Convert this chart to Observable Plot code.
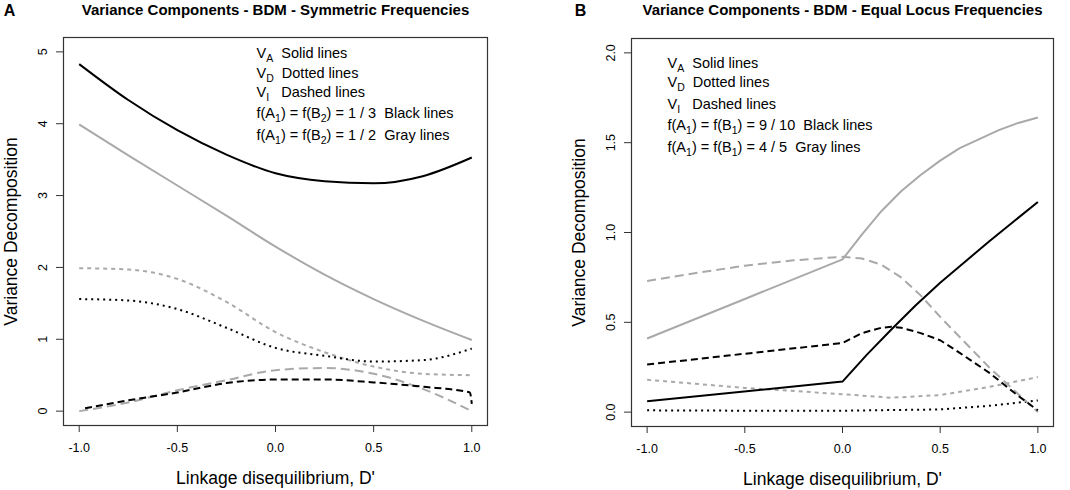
<!DOCTYPE html>
<html><head><meta charset="utf-8">
<script src="https://cdn.jsdelivr.net/npm/d3@7"></script>
<script src="https://cdn.jsdelivr.net/npm/@observablehq/plot@0.6"></script>
<style>
body{margin:0;background:#fff;}
#wrap{display:flex;width:1070px;height:490px;overflow:hidden;}
</style></head><body><div id="wrap"></div>
<script>
// ---------- data ----------
const xTicks = [-1, -0.5, 0, 0.5, 1];
const yTicksA = [0, 1, 2, 3, 4, 5];
const yTicksB = [0, 0.5, 1, 1.5, 2];

const titleA = "Variance Components - BDM - Symmetric Frequencies";
const titleB = "Variance Components - BDM - Equal Locus Frequencies";
const xLabel = "Linkage disequilibrium, D'";
const yLabel = "Variance Decomposition";

const legendA = [
  "V_{A}\u00a0 Solid lines",
  "V_{D}\u00a0 Dotted lines",
  "V_{I}\u00a0\u00a0 Dashed lines",
  "f(A_{1}) = f(B_{2}) = 1 / 3\u00a0 Black lines",
  "f(A_{1}) = f(B_{2}) = 1 / 2\u00a0 Gray lines"
];
const legendB = [
  "V_{A}\u00a0 Solid lines",
  "V_{D}\u00a0 Dotted lines",
  "V_{I}\u00a0\u00a0 Dashed lines",
  "f(A_{1}) = f(B_{1}) = 9 / 10\u00a0 Black lines",
  "f(A_{1}) = f(B_{1}) = 4 / 5\u00a0 Gray lines"
];

// Panel A (D' grid)
const xA = [-1, -0.75, -0.5, -0.25, 0, 0.25, 0.5, 0.75, 1];
const aVaBlack = [4.83, 4.33, 3.91, 3.57, 3.31, 3.20, 3.17, 3.27, 3.53];
const aVaGray  = [3.99, 3.56, 3.14, 2.72, 2.29, 1.90, 1.56, 1.26, 0.99];
const aVdBlack = [1.56, 1.54, 1.42, 1.16, 0.88, 0.77, 0.69, 0.71, 0.87];
const aVdGray  = [1.99, 1.97, 1.84, 1.52, 1.10, 0.82, 0.62, 0.52, 0.50];
const aViGray  = [0.00, 0.12, 0.29, 0.43, 0.57, 0.60, 0.52, 0.31, 0.00];
const xAViBlack = [-0.97, -0.75, -0.5, -0.25, 0, 0.25, 0.5, 0.75, 0.99, 1];
const aViBlack  = [0.04, 0.15, 0.26, 0.39, 0.44, 0.44, 0.40, 0.34, 0.26, 0.10];

// Panel B
const xBVaBlack = [-1, 0, 0.125, 0.25, 0.375, 0.5, 0.75, 1];
const bVaBlack  = [0.06, 0.17, 0.32, 0.46, 0.595, 0.72, 0.95, 1.17];
const xBVaGray  = [-1, -0.5, 0, 0.1, 0.2, 0.3, 0.4, 0.5, 0.6, 0.7, 0.8, 0.9, 1];
const bVaGray   = [0.41, 0.63, 0.85, 0.99, 1.12, 1.23, 1.32, 1.40, 1.47, 1.52, 1.57, 1.61, 1.64];
const xBViGray  = [-1, -0.75, -0.5, -0.25, 0, 0.1, 0.2, 0.3, 0.4, 0.5, 0.75, 1];
const bViGray   = [0.73, 0.775, 0.815, 0.845, 0.865, 0.855, 0.82, 0.75, 0.65, 0.53, 0.25, 0.0];
const xBViBlack = [-1, -0.5, 0, 0.1, 0.2, 0.25, 0.3, 0.4, 0.5, 0.6, 0.75, 0.9, 1];
const bViBlack  = [0.265, 0.325, 0.385, 0.44, 0.47, 0.475, 0.47, 0.44, 0.40, 0.33, 0.22, 0.09, 0.01];
const xBVdGray  = [-1, -0.5, 0, 0.25, 0.5, 0.75, 1];
const bVdGray   = [0.18, 0.135, 0.10, 0.08, 0.095, 0.14, 0.195];
const xBVdBlack = [-1, -0.5, 0, 0.5, 0.75, 1];
const bVdBlack  = [0.01, 0.008, 0.008, 0.015, 0.035, 0.065];

// ---------- styles ----------
const FONT = "'Liberation Sans', Arial, sans-serif";
const colors = {black: "#000000", gray: "#A9A9A9"};
const dashes = {
  VA: {black: null, gray: null},
  VD: {black: "2,4", gray: "4,4"},
  VI: {black: "7,4", gray: "9,5"}
};

const seriesA = [
  {comp: "VD", grp: "gray",  xs: xA, ys: aVdGray},
  {comp: "VD", grp: "black", xs: xA, ys: aVdBlack},
  {comp: "VI", grp: "gray",  xs: xA, ys: aViGray},
  {comp: "VI", grp: "black", xs: xAViBlack, ys: aViBlack},
  {comp: "VA", grp: "gray",  xs: xA, ys: aVaGray},
  {comp: "VA", grp: "black", xs: xA, ys: aVaBlack}
];
const seriesB = [
  {comp: "VD", grp: "gray",  xs: xBVdGray, ys: bVdGray},
  {comp: "VD", grp: "black", xs: xBVdBlack, ys: bVdBlack},
  {comp: "VI", grp: "gray",  xs: xBViGray, ys: bViGray},
  {comp: "VI", grp: "black", xs: xBViBlack, ys: bViBlack},
  {comp: "VA", grp: "gray",  xs: xBVaGray, ys: bVaGray},
  {comp: "VA", grp: "black", xs: xBVaBlack, ys: bVaBlack}
];

function rows(s) { return s.xs.map((x, i) => ({x, y: s.ys[i]})); }
const fmt1 = d => d.toFixed(1);
const fmt0 = d => d.toFixed(0);

function makePanel(cfg) {
  const lineMarks = cfg.series.map(s => Plot.line(rows(s), {
    x: "x", y: "y",
    stroke: colors[s.grp], strokeWidth: 2,
    strokeDasharray: dashes[s.comp][s.grp] || undefined,
    strokeLinecap: "butt", strokeLinejoin: "round",
    curve: cfg.curve
  }));
  const legendMarks = cfg.legend.map((t, i) => Plot.text([t], {
    text: d => d, frameAnchor: "top-left",
    dx: cfg.legendDx, dy: cfg.legendDy[i],
    textAnchor: "start", lineAnchor: "middle",
    fontSize: 14.5, fill: "#000"
  }));
  return Plot.plot({
    width: 535, height: 490,
    marginLeft: cfg.ml, marginRight: cfg.mr, marginTop: cfg.mt, marginBottom: cfg.mb,
    style: {fontFamily: FONT, color: "#000", background: "#fff", overflow: "visible"},
    x: {domain: [-1.08, 1.08]},
    y: {domain: cfg.ydomain},
    marks: [
      Plot.frame({stroke: "#333", strokeWidth: 1.2}),
      Plot.axisX({ticks: xTicks, tickFormat: fmt1, tickSize: 7, tickPadding: 11,
        fontSize: 12.5, label: null, stroke: "#333"}),
      Plot.axisY({ticks: cfg.yticks, tickFormat: cfg.yfmt, tickSize: 7, tickPadding: 10,
        tickRotate: -90, textAnchor: "middle", lineAnchor: "bottom",
        fontSize: 12.5, label: null, stroke: "#333"}),
      ...lineMarks,
      ...legendMarks,
      Plot.text([cfg.title], {text: d => d, frameAnchor: "top", dy: cfg.titleDy,
        lineAnchor: "middle", fontWeight: "bold", fontSize: 15, fill: "#000"}),
      Plot.text([cfg.letter], {text: d => d, frameAnchor: "top-left", dx: cfg.letterDx, dy: cfg.titleDy,
        lineAnchor: "middle", textAnchor: "middle", fontWeight: "bold", fontSize: 16, fill: "#000"}),
      Plot.text([xLabel], {text: d => d, frameAnchor: "bottom", dy: 53,
        lineAnchor: "middle", fontSize: 17.5, fill: "#000"}),
      Plot.text([yLabel], {text: d => d, frameAnchor: "left", dx: -52, rotate: -90,
        lineAnchor: "middle", textAnchor: "middle", fontSize: 17.5, fill: "#000"})
    ]
  });
}

function subscripts(svg) {
  d3.select(svg).selectAll("text").each(function() {
    const s = this.textContent;
    if (!s.includes("_{")) return;
    const sel = d3.select(this);
    sel.text(null);
    const parts = s.split(/(_\{[^}]*\})/).filter(p => p.length);
    let shifted = false;
    for (const p of parts) {
      const m = p.match(/^_\{([^}]*)\}$/);
      if (m) {
        sel.append("tspan").attr("font-size", "10.5").attr("dy", 4).text(m[1]);
        shifted = true;
      } else {
        const t = sel.append("tspan").text(p);
        if (shifted) { t.attr("dy", -4); shifted = false; }
      }
    }
  });
}

const panelA = makePanel({
  series: seriesA, curve: "monotone-x", legend: legendA,
  legendDx: 193, legendDy: [15.5, 35.5, 55, 75.5, 98],
  ml: 63, mr: 48, mt: 37, mb: 65, ydomain: [-0.2, 5.2],
  yticks: yTicksA, yfmt: fmt0,
  title: titleA, letter: "A", titleDy: -27, letterDx: -54
});
const panelB = makePanel({
  series: seriesB, curve: "linear", legend: legendB,
  legendDx: 36, legendDy: [24.5, 43.5, 65.5, 86.5, 109],
  ml: 96, mr: 17, mt: 38, mb: 64, ydomain: [-0.08, 2.08],
  yticks: yTicksB, yfmt: fmt1,
  title: titleB, letter: "B", titleDy: -28, letterDx: -51
});
subscripts(panelA);
subscripts(panelB);
document.getElementById("wrap").append(panelA, panelB);
</script>
</body></html>
